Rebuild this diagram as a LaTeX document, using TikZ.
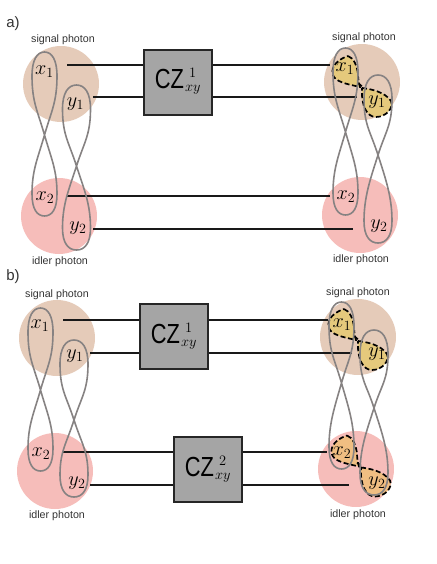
\documentclass[tikz,border=0pt]{standalone}
\usepackage{graphicx}
\usepackage{fontspec}
\setmainfont{Liberation Sans}
\definecolor{sig}{HTML}{E5CBB9}
\definecolor{idl}{HTML}{F6BDBA}
\definecolor{gatefill}{HTML}{A5A5A5}
\definecolor{loopc}{HTML}{868282}
\definecolor{blobY}{HTML}{E5C97C}
\definecolor{blobO}{HTML}{F0BE82}
\tikzset{
  sigc/.style={circle,fill=sig,minimum size=76pt,inner sep=0pt},
  idlc/.style={circle,fill=idl,minimum size=76pt,inner sep=0pt},
  gatebox/.style={draw=black!85,line width=1.1pt,fill=gatefill,minimum width=68pt,minimum height=65pt,inner sep=0pt},
  wire/.style={black!90,line width=1.1pt},
  loopline/.style={loopc,line width=1.6pt},
  blobline/.style={black,line width=1.7pt,dash pattern=on 5pt off 2.6pt},
  captext/.style={font=\fontsize{10.7}{12}\selectfont,inner sep=0pt,text=black!80},
  var/.style={inner sep=0pt},
  panel/.style={font=\fontsize{15}{17}\selectfont,inner sep=0pt,text=black!80}
}
\newcommand{\vartext}[1]{\scalebox{1.17}{\fontsize{17.28}{20}\selectfont\(#1\)}}
\newcommand{\gatetext}[1]{\raisebox{-6.5pt}[0pt][0pt]{%
  \scalebox{0.95}[1.2]{\fontsize{23}{25}\selectfont CZ}\kern1pt%
  \makebox[16pt][l]{\fontsize{14.4}{16}\selectfont
    \rlap{\kern4pt\raisebox{11pt}{\(#1\)}}\raisebox{-3pt}{\(xy\)}}}}
% centre x, top y, crossing y, bottom y, half width
\newcommand{\eightloop}[5]{%
  \draw[loopline] (#1,#3)
    .. controls (#1+0.55*#5,#3-24) and (#1+#5,#2+50) .. (#1+#5,#2+24)
    .. controls (#1+#5,#2+8) and (#1+0.6*#5,#2) .. (#1,#2)
    .. controls (#1-0.6*#5,#2) and (#1-#5,#2+8) .. (#1-#5,#2+24)
    .. controls (#1-#5,#2+50) and (#1-0.55*#5,#3-24) .. (#1,#3)
    .. controls (#1+0.55*#5,#3+24) and (#1+#5,#4-46) .. (#1+#5,#4-22)
    .. controls (#1+#5,#4-7) and (#1+0.6*#5,#4) .. (#1,#4)
    .. controls (#1-0.6*#5,#4) and (#1-#5,#4-7) .. (#1-#5,#4-22)
    .. controls (#1-#5,#4-46) and (#1-0.55*#5,#3+24) .. (#1,#3);}
% dx, dy, colour
\newcommand{\dashedpair}[3]{%
  \begin{scope}[shift={(#1,#2)}]
    \draw[blobline,fill=#3] (348,56)
      .. controls (354,58) and (357,66) .. (358,74)
      .. controls (358,79) and (359,84) .. (360,87)
      .. controls (352,85) and (338,83) .. (334,77)
      .. controls (330,71) and (333,61) .. (348,56) -- cycle;
    \draw[blobline,fill=#3] (362,88)
      .. controls (371,89) and (385,92) .. (391,101)
      .. controls (394,108) and (386,117) .. (376,117)
      .. controls (367,117) and (361,106) .. (362,88) -- cycle;
    \draw[blobline] (358,83) -- (364,88);
  \end{scope}}
\begin{document}
\begin{tikzpicture}[x=1pt,y=-1pt]
\useasboundingbox (0,0) rectangle (436,564);
% panel a, circles
\node[sigc] (as1) at (61,84) {};
\node[idlc] (ai1) at (59,216) {};
\node[sigc] (as2) at (362,82) {};
\node[idlc] (ai2) at (360,215) {};
% panel b, circles
\node[sigc] (bs1) at (57,338) {};
\node[idlc] (bi1) at (55,471) {};
\node[sigc] (bs2) at (358,337) {};
\node[idlc] (bi2) at (356,469) {};
% gates
\node[gatebox] (ga) at (178,82.5) {\gatetext{1}};
\node[gatebox] (gb) at (174,336.5) {\gatetext{1}};
\node[gatebox] (gc) at (208,469.5) {\gatetext{2}};
% wire ends
\coordinate (a1l) at (67,65);   \coordinate (a1r) at (330,65);
\coordinate (a2l) at (93,97);   \coordinate (a2r) at (357,97);
\coordinate (a3l) at (67,196);  \coordinate (a3r) at (330,196);
\coordinate (a4l) at (93,229);  \coordinate (a4r) at (353,229);
\coordinate (b1l) at (63,320);  \coordinate (b1r) at (328,320);
\coordinate (b2l) at (90,353);  \coordinate (b2r) at (352,353);
\coordinate (b3l) at (63,452);  \coordinate (b3r) at (327,452);
\coordinate (b4l) at (90,485);  \coordinate (b4r) at (349,485);
% wires
\draw[wire] (a1l) -- (a1l -| ga.west) (a1r -| ga.east) -- (a1r);
\draw[wire] (a2l) -- (a2l -| ga.west) (a2r -| ga.east) -- (a2r);
\draw[wire] (a3l) -- (a3r);
\draw[wire] (a4l) -- (a4r);
\draw[wire] (b1l) -- (b1l -| gb.west) (b1r -| gb.east) -- (b1r);
\draw[wire] (b2l) -- (b2l -| gb.west) (b2r -| gb.east) -- (b2r);
\draw[wire] (b3l) -- (b3l -| gc.west) (b3r -| gc.east) -- (b3r);
\draw[wire] (b4l) -- (b4l -| gc.west) (b4r -| gc.east) -- (b4r);
% dashed groups
\dashedpair{0}{0}{blobY}
\dashedpair{-4}{253}{blobY}
\dashedpair{-1}{379.5}{blobO}
% loops
\eightloop{44.5}{52}{135}{216}{12.5}
\eightloop{76.5}{85}{166}{250}{14}
\eightloop{345.5}{48}{132}{215}{12.5}
\eightloop{378}{75}{155}{243}{14}
\eightloop{40.5}{308}{390}{471}{12.5}
\eightloop{74}{340}{420}{497}{14}
\eightloop{341.5}{302}{383}{469}{12.5}
\eightloop{374}{330}{408}{495}{14}
% variables
\node[var] (ax1) at (44.5,72) {\vartext{x_1}};
\node[var] (ay1) at (75.5,104) {\vartext{y_1}};
\node[var] (ax2) at (45,198) {\vartext{x_2}};
\node[var] (ay2) at (78,228) {\vartext{y_2}};
\node[var] (cx1) at (345,69) {\vartext{x_1}};
\node[var] (cy1) at (377,102) {\vartext{y_1}};
\node[var] (cx2) at (346,197) {\vartext{x_2}};
\node[var] (cy2) at (379,226) {\vartext{y_2}};
\node[var] (bx1) at (40,326) {\vartext{x_1}};
\node[var] (by1) at (75,356) {\vartext{y_1}};
\node[var] (bx2) at (41,454) {\vartext{x_2}};
\node[var] (by2) at (77,483) {\vartext{y_2}};
\node[var] (dx1) at (342,325) {\vartext{x_1}};
\node[var] (dy1) at (377,354) {\vartext{y_1}};
\node[var] (dx2) at (342,453) {\vartext{x_2}};
\node[var] (dy2) at (377,483) {\vartext{y_2}};
% captions
\node[captext] (c1) at (63,40) {signal photon};
\node[captext] (c2) at (60,262) {idler photon};
\node[captext] (c3) at (364,38) {signal photon};
\node[captext] (c4) at (361,260) {idler photon};
\node[captext] (c5) at (57,295) {signal photon};
\node[captext] (c6) at (57,516) {idler photon};
\node[captext] (c7) at (358,293) {signal photon};
\node[captext] (c8) at (358,515) {idler photon};
\node[panel] (pa) at (13,24) {a)};
\node[panel] (pb) at (13,277) {b)};
\end{tikzpicture}
\end{document}
